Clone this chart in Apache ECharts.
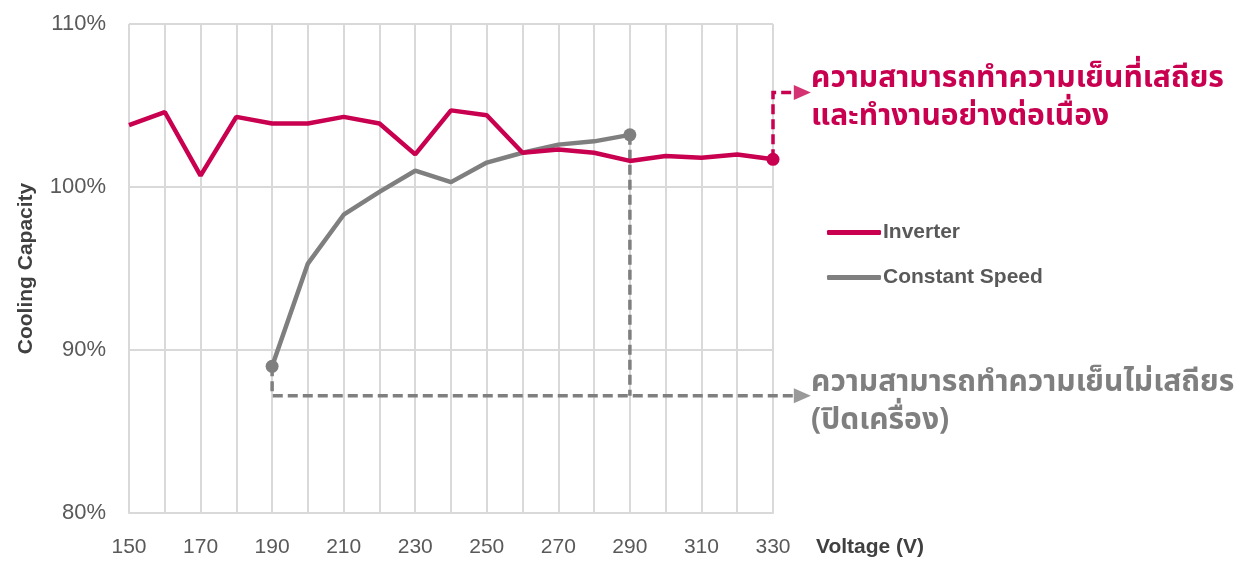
<!DOCTYPE html>
<html>
<head>
<meta charset="utf-8">
<script src="https://cdn.jsdelivr.net/npm/echarts@6/dist/echarts.min.js"></script>
<style>
html,body{margin:0;padding:0;background:#fff;}
#chart{width:1240px;height:563px;}
</style>
</head>
<body>
<div id="chart"></div>
<script>
// ---- data ----
const voltages = [150,160,170,180,190,200,210,220,230,240,250,260,270,280,290,300,310,320,330];
const inverter = [103.8,104.6,100.7,104.3,103.9,103.9,104.3,103.9,102.0,104.7,104.4,102.1,102.3,102.1,101.6,101.9,101.8,102.0,101.7];
const constVolt = [190,200,210,220,230,240,250,260,270,280,290];
const constant = [89.0,95.3,98.3,99.7,101.0,100.3,101.5,102.1,102.6,102.8,103.2];
const yTicks = [80,90,100,110];
const seriesNames = ['Inverter','Constant Speed'];
const noteStable = ['ความสามารถทำความเย็นที่เสถียร','และทำงานอย่างต่อเนื่อง'];
const noteUnstable = ['ความสามารถทำความเย็นไม่เสถียร','(ปิดเครื่อง)'];
// annotation guide levels (in data units)
const grayGuideY = 87.2;
const pinkGuideY = 105.8;
const lineEndX = 336.3;
const arrowX = 338.2;

const PINK = '#C8004F';
const GRAY = '#7F7F7F';
const TXT = '#595959';
const FONT = '"Liberation Sans Narrow","Arial Narrow","Liberation Sans",Arial,sans-serif';
const THAI = '"Noto Sans Thai","Tahoma","DejaVu Sans",sans-serif';

const invData = voltages.map((v,i)=>{
  const p = {value:[v,inverter[i]]};
  if (i === voltages.length-1) { p.symbol='circle'; p.symbolSize=13; }
  return p;
});
const conData = constVolt.map((v,i)=>{
  const p = {value:[v,constant[i]]};
  if (i === 0 || i === constVolt.length-1) { p.symbol='circle'; p.symbolSize=13; }
  return p;
});
const lastInv = inverter[inverter.length-1];
const firstCon = constant[0];
const lastCon = constant[constant.length-1];
const firstConX = constVolt[0];
const lastConX = constVolt[constVolt.length-1];
const lastInvX = voltages[voltages.length-1];

// each guide: [x1,y1,x2,y2,x3,y3]
function guide(paths,color){
  return {type:'custom',data:paths,clip:false,silent:true,z:3,
    renderItem:function(params,api){
      const pts=[];
      for(let k=0;k<3;k++){ pts.push(api.coord([api.value(2*k),api.value(2*k+1)])); }
      return {type:'polyline',shape:{points:pts},
        style:{stroke:color,lineWidth:3.5,lineDash:[10,5],fill:null}};
    }};
}
function arrow(x,y,color){
  return {type:'scatter',data:[[x,y]],symbol:'triangle',symbolSize:[15,17],symbolRotate:-90,
    clip:false,silent:true,z:6,itemStyle:{color:color}};
}

const chart = echarts.init(document.getElementById('chart'));
chart.setOption({
  animation:false,
  grid:{left:129,right:467,top:24,bottom:50},
  legend:{
    data:seriesNames,
    orient:'vertical',
    left:822, top:217,
    itemWidth:54, itemHeight:5, itemGap:24,
    icon:'roundRect',
    textStyle:{color:TXT,fontFamily:FONT,fontSize:21,fontWeight:'bold',padding:[0,0,0,-3]}
  },
  xAxis:{
    type:'value', min:150, max:330, interval:10,
    name:'Voltage (V)', nameLocation:'end', nameGap:43,
    nameTextStyle:{color:'#404040',fontFamily:FONT,fontSize:21,fontWeight:'bold',verticalAlign:'top',padding:[24,0,0,0]},
    axisLine:{show:true,lineStyle:{color:'#D9D9D9',width:2}},
    axisTick:{show:false},
    axisLabel:{color:TXT,fontFamily:FONT,fontSize:21,margin:24,
      formatter:(v)=> ((v-150)%20===0 ? String(v) : '')},
    splitLine:{show:true,lineStyle:{color:'#D9D9D9',width:2}}
  },
  yAxis:{
    type:'value', min:yTicks[0], max:yTicks[yTicks.length-1], interval:10,
    name:'Cooling Capacity', nameLocation:'middle', nameGap:92,
    nameTextStyle:{color:'#404040',fontFamily:FONT,fontSize:21,fontWeight:'bold'},
    axisLine:{show:false}, axisTick:{show:false},
    axisLabel:{color:TXT,fontFamily:FONT,fontSize:22,margin:23,formatter:'{value}%'},
    splitLine:{show:true,lineStyle:{color:'#D9D9D9',width:2}}
  },
  series:[
    {
      name:seriesNames[0], type:'line', data:invData, symbol:'none',
      lineStyle:{color:PINK,width:4.5}, itemStyle:{color:PINK}, z:5,
      silent:true
    },
    {
      name:seriesNames[1], type:'line', data:conData, symbol:'none',
      lineStyle:{color:GRAY,width:4.5}, itemStyle:{color:GRAY}, z:4,
      silent:true
    },
    guide([[lastInvX,lastInv,lastInvX,pinkGuideY,lineEndX,pinkGuideY]],PINK),
    guide([[firstConX,firstCon,firstConX,grayGuideY,lineEndX,grayGuideY],
           [lastConX,lastCon,lastConX,grayGuideY,lastConX,grayGuideY]],GRAY),
    arrow(arrowX,pinkGuideY,PINK),
    arrow(arrowX,grayGuideY,GRAY)
  ],
  graphic:[
    {type:'text',left:811,top:62,style:{text:noteStable[0]+'\n'+noteStable[1],fill:PINK,font:'bold 30px '+THAI,lineHeight:38}},
    {type:'text',left:811,top:366,style:{text:noteUnstable[0]+'\n'+noteUnstable[1],fill:GRAY,font:'bold 30px '+THAI,lineHeight:38}}
  ]
});
</script>
</body>
</html>
